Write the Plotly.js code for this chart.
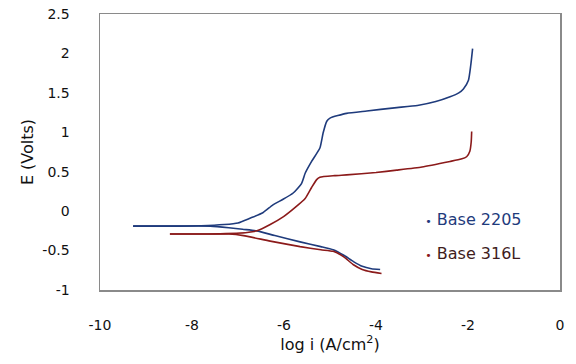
<!DOCTYPE html>
<html>
<head>
<meta charset="utf-8">
<script src="https://cdn.plot.ly/plotly-3.0.1.min.js"></script>
<style>html,body{margin:0;padding:0;background:#fff;}#chart{width:576px;height:364px;}</style>
</head>
<body>
<div id="chart"></div>
<script>
// Base 2205 polarization curve (log i in A/cm2, E in volts)
const cathLogI2205 = [-9.28,-8.5,-7.6,-7.2,-6.9,-6.59,-6.2,-5.65,-5.2,-4.93,-4.7,-4.49,-4.3,-4.1,-3.91];
const cathE2205    = [-0.19,-0.19,-0.19,-0.21,-0.23,-0.25,-0.31,-0.39,-0.45,-0.49,-0.56,-0.64,-0.70,-0.73,-0.74];
const anodLogI2205 = [-9.28,-8.5,-7.8,-7.3,-7.0,-6.74,-6.46,-6.24,-6.02,-5.8,-5.62,-5.54,-5.40,-5.22,-5.15,-5.07,-5.0,-4.64,-4.2,-3.6,-3.1,-2.7,-2.39,-2.2,-2.1,-1.99,-1.94,-1.90];
const anodE2205    = [-0.19,-0.19,-0.185,-0.17,-0.15,-0.09,-0.02,0.08,0.15,0.23,0.35,0.48,0.63,0.80,0.99,1.14,1.18,1.24,1.27,1.31,1.34,1.39,1.45,1.50,1.55,1.66,1.85,2.06];

// Base 316L polarization curve
const cathLogI316L = [-8.48,-7.8,-7.2,-6.88,-6.3,-5.65,-5.2,-4.93,-4.7,-4.49,-4.3,-4.1,-3.88];
const cathE316L    = [-0.29,-0.29,-0.29,-0.31,-0.38,-0.45,-0.49,-0.51,-0.58,-0.68,-0.74,-0.77,-0.79];
const anodLogI316L = [-8.48,-8.0,-7.5,-7.03,-6.8,-6.59,-6.3,-6.01,-5.75,-5.54,-5.4,-5.29,-5.22,-4.9,-4.64,-4.0,-3.55,-3.0,-2.39,-2.15,-2.03,-1.96,-1.93,-1.92];
const anodE316L    = [-0.29,-0.29,-0.29,-0.28,-0.27,-0.25,-0.17,-0.07,0.05,0.16,0.30,0.40,0.43,0.45,0.46,0.49,0.52,0.56,0.63,0.66,0.69,0.76,0.88,1.01];

const seriesNames = ["Base 2205", "Base 316L"];
const xTicks = [-10,-8,-6,-4,-2,0];
const xTickText = ["-10","-8","-6","-4","-2","0"];
const yTicks = [-1,-0.5,0,0.5,1,1.5,2,2.5];
const yTickText = ["-1","-0.5","0","0.5","1","1.5","2","2.5"];

const blue = "#1f3b7c", red = "#8b1a1a";
const ln = (c) => ({color: c, width: 1.6, shape: "spline", smoothing: 0.5});
const data = [
  {x: cathLogI2205, y: cathE2205, mode: "lines", line: ln(blue), showlegend: false, hoverinfo: "skip"},
  {x: anodLogI2205, y: anodE2205, mode: "lines", line: ln(blue), showlegend: false, hoverinfo: "skip"},
  {x: cathLogI316L, y: cathE316L, mode: "lines", line: ln(red), showlegend: false, hoverinfo: "skip"},
  {x: anodLogI316L, y: anodE316L, mode: "lines", line: ln(red), showlegend: false, hoverinfo: "skip"},
  {x: [null], y: [null], mode: "markers", marker: {size: 0, color: "rgba(0,0,0,0)", line: {width: 0}},
   name: '<span style="color:#1f3b7c"><span style="font-size:11px">•</span> ' + seriesNames[0] + '</span>', legendgroup: "a"},
  {x: [null], y: [null], mode: "markers", marker: {size: 0, color: "rgba(0,0,0,0)", line: {width: 0}},
   name: '<span style="color:#8b1a1a"><span style="font-size:11px">•</span></span><span style="color:#3f1d1d"> ' + seriesNames[1] + '</span>', legendgroup: "b"}
];

const fam = "DejaVu Sans, Verdana, sans-serif";
const layout = {
  width: 576, height: 364,
  margin: {l: 100, r: 16, t: 14, b: 74},
  paper_bgcolor: "#fff", plot_bgcolor: "#fff",
  font: {family: fam, size: 14, color: "#111"},
  showlegend: true,
  legend: {x: 0.62, y: 0.196, xanchor: "left", yanchor: "middle", bgcolor: "rgba(0,0,0,0)",
           tracegroupgap: 11, itemwidth: 30, font: {family: fam, size: 16}},
  xaxis: {range: [-10, 0], tickvals: xTicks, ticktext: xTickText, ticks: "", showgrid: false, zeroline: false,
          showline: true, linecolor: "#8a8a8a", linewidth: 1.5, mirror: true,
          ticklabelstandoff: 22,
          title: {text: "log i (A/cm<sup>2</sup>)", standoff: 3, font: {size: 16}}},
  yaxis: {range: [-1, 2.5], tickvals: yTicks, ticktext: yTickText, ticks: "", showgrid: false, zeroline: false,
          showline: true, linecolor: "#8a8a8a", linewidth: 1.5, mirror: true,
          ticklabelstandoff: 26,
          title: {text: "E (Volts)", standoff: 5, font: {size: 16}}}
};
Plotly.newPlot("chart", data, layout, {staticPlot: true, displayModeBar: false});
</script>
</body>
</html>
